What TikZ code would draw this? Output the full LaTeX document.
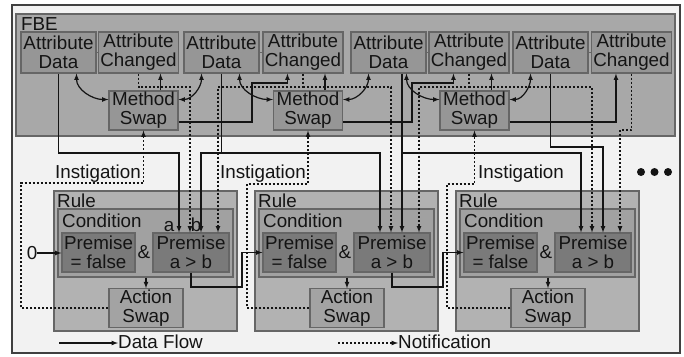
\documentclass[tikz,border=0pt]{standalone}
\usepackage{fontspec}
\setmainfont{Liberation Sans}
\usetikzlibrary{arrows}
\definecolor{bgcol}{gray}{0.95}
\definecolor{framecol}{gray}{0.25}
\definecolor{fbecol}{gray}{0.66}
\definecolor{attrcol}{gray}{0.59}
\definecolor{rulecol}{gray}{0.70}
\definecolor{condcol}{gray}{0.63}
\definecolor{premcol}{gray}{0.48}
\definecolor{actcol}{gray}{0.64}
\definecolor{edgecol}{gray}{0.40}
\definecolor{inkcol}{gray}{0.08}
\tikzstyle{box}=[draw=edgecol, line width=1.1pt, inner sep=1pt, align=center, text=inkcol]
\tikzstyle{attr}=[box, fill=attrcol, minimum height=41pt]
\tikzstyle{meth}=[box, fill=attrcol, minimum width=69pt, minimum height=39pt]
\tikzstyle{rulebox}=[box, fill=rulecol, minimum width=183pt, minimum height=140pt]
\tikzstyle{cond}=[box, fill=condcol, minimum width=175pt, minimum height=68pt]
\tikzstyle{prem}=[box, fill=premcol, minimum height=39pt]
\tikzstyle{act}=[box, fill=actcol, minimum width=74pt, minimum height=38pt]
\tikzstyle{lbl}=[inner sep=0pt, text=inkcol]
\tikzstyle{flow}=[->, line width=1.2pt, draw=inkcol]
\tikzstyle{notify}=[flow, dash pattern=on 2pt off 2pt]

\begin{document}
\begin{tikzpicture}[>=latex, x=1pt, y=-1pt, font=\fontsize{18.8}{19}\selectfont]
	\useasboundingbox (0,0) rectangle (684,356);
	\draw[draw=framecol, line width=1.4pt, fill=bgcol] (12,5) rectangle (680,353);

		% FBE area
		\node[box, fill=fbecol, minimum width=659pt, minimum height=122pt] (fbe) at (345.5,75) {};
		\node[lbl, anchor=base west] (fbel) at (21,30) {FBE};
		% Attribute pairs
		\foreach \i/\xd/\xc in {1/58.5/138.5, 2/221.5/303, 3/388.5/469, 4/550.5/631.5}{
		\node[attr, minimum width=75pt] (d\i) at (\xd,52.5) {Attribute\\Data};
		\node[attr, minimum width=80pt] (c\i) at (\xc,52.5) {Attribute\\Changed};
		\draw[line width=1.1pt, draw=edgecol] (d\i) -- (c\i);
		}
		% Method swaps
		\foreach \i/\xm in {1/143.5, 2/308, 3/474.5}
		\node[meth] (m\i) at (\xm,110.5) {Method\\Swap};

		% Rules
		\foreach \i/\xr in {1/54, 2/255, 3/456}{
		\node[rulebox] (r\i) at (\xr+91.5,261) {};
		\node[lbl, anchor=base west] (rl\i) at (\xr+3,207) {Rule};
		\node[cond] (cd\i) at (\xr+91.5,243) {};
		\node[lbl, anchor=base west] (cl\i) at (\xr+8,227) {Condition};
		\node[prem, minimum width=73pt] (pf\i) at (\xr+44.5,252.5) {Premise\\= false};
		\node[prem, minimum width=76pt] (pa\i) at (\xr+137,252.5) {Premise\\a > b};
		\node[lbl] (and\i) at (\xr+90,252) {\&};
		\node[act] (ac\i) at (\xr+92,308) {Action\\Swap};
		\draw[flow] (ac\i.north |- cd\i.south) -- (ac\i);
		% inputs of premise a > b
		\coordinate (ia\i) at ([xshift=-12]pa\i.north);
		\coordinate (ica\i) at ([xshift=-1]pa\i.north);
		\coordinate (ib\i) at ([xshift=10]pa\i.north);
		\coordinate (icb\i) at ([xshift=27]pa\i.north);
		}
		\node[lbl, anchor=base] (la) at (169,231) {a};
		\node[lbl, anchor=base] (lb) at (196,231) {b};
		\node[lbl] (zero) at (32,253) {0};

		% Method swap links
		\foreach \i/\j in {1/2, 2/3, 3/4}{
		\draw[flow, <->] ([xshift=18]d\i.south) to[out=-90,in=180] ([yshift=11]m\i.west);
		\draw[flow, <->] ([yshift=11]m\i.east) to[out=0,in=-90] ([xshift=-20]d\j.south);
		\draw[flow] ([xshift=17]m\i.north) -- ([xshift=17]m\i.north |- c\i.south);
		}
		\coordinate (t1) at (252,83);
		\coordinate (t2) at (412,83);
		\draw[flow] ([yshift=-11.5]m1.east) -| (t1) -| ([xshift=25]c2.south west);
		\draw[flow] ([yshift=-11.5]m2.east) -| (t2) -| ([xshift=25]c3.south west);
		\draw[flow] ([yshift=-11.5]m3.east) -| ([xshift=25]c4.south west);

		% Data flow into the premises
		\coordinate (dbus) at (0,153);
		\coordinate (dbus4) at (0,147);
		\coordinate (d3out) at ([xshift=13.5]d3.south);
		\draw[flow] (d1.south) -- (d1.south |- dbus) -| (ia1);
		\draw[flow] (d2.south) -- (d2.south |- dbus) -| (ib1);
		\draw[flow] (d2.south |- dbus) -| (ia2);
		\draw[flow] (d3out) -- (ib2);
		\draw[flow] (d3out |- dbus) -| (ia3);
		\draw[flow] (d4.south) -- (d4.south |- dbus4) -| (ib3);

		% Notifications into the premises
		\coordinate (cbus) at (0,87);
		\coordinate (cbus4) at (0,130);
		\draw[notify] (c1.south) -- (c1.south |- cbus) -| (ica1);
		\draw[notify] (c2.south) -- (c2.south |- cbus) -| (icb1);
		\draw[notify] (c2.south |- cbus) -| (ica2);
		\draw[notify] (c3.south) -- (c3.south |- cbus) -| (icb2);
		\draw[notify] (c3.south |- cbus) -| (ica3);
		\draw[notify] (c4.south) -- (c4.south |- cbus4) -| (icb3);

		% Instigation
		\coordinate (k1) at (21,183);
		\coordinate (k2) at (247,184);
		\coordinate (k3) at (447,184);
		\foreach \i in {1,2,3}
		\draw[notify] (ac\i.west) -| (k\i) -| (m\i.south);
		\node[lbl, anchor=base east] (ins1) at (141,178) {Instigation};
		\node[lbl, anchor=base east] (ins2) at (306,178) {Instigation};
		\node[lbl, anchor=base west] (ins3) at (478,178) {Instigation};

		% Premise chain
		\coordinate (j1) at (242,287);
		\coordinate (j2) at (443,287);
		\draw[flow] (zero) -- (zero -| pf1.west);
		\draw[flow] (pa1.south) |- (j1) |- (pf2.west);
		\draw[flow] (pa2.south) |- (j2) |- (pf3.west);

		\foreach \xd in {641,654.5,668}
		\fill[inkcol] (\xd,172) circle (4pt);

		% Legend
		\node[lbl, anchor=west] (ldf) at (118,342) {Data Flow};
		\node[lbl, anchor=west] (lnt) at (398,342) {Notification};
		\coordinate (ldf0) at (59,343);
		\coordinate (lnt0) at (338,343);
		\draw[flow] (ldf0) -- (ldf0 -| ldf.west);
		\draw[notify] (lnt0) -- (lnt0 -| lnt.west);
\end{tikzpicture}
\end{document}
